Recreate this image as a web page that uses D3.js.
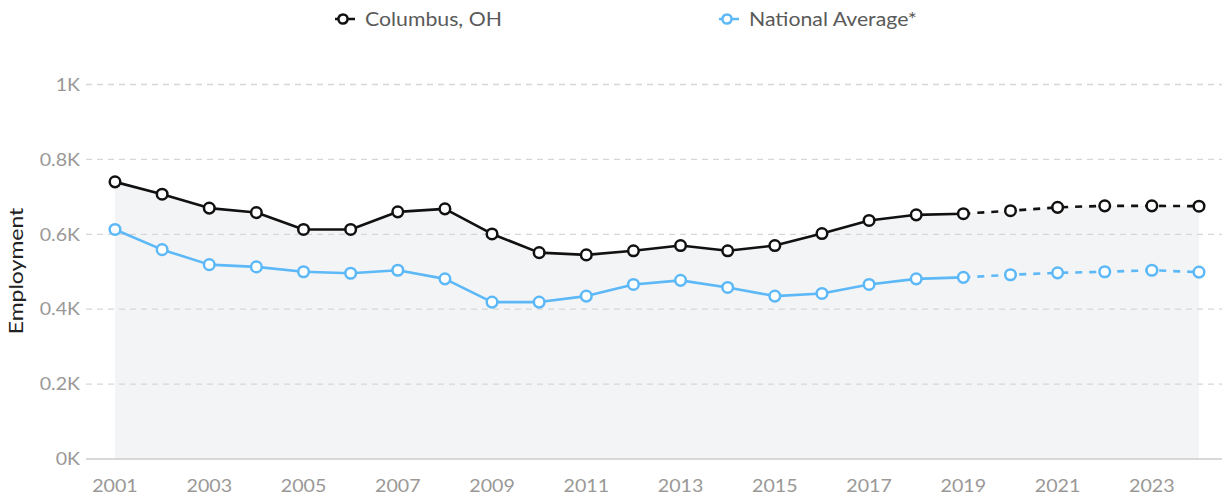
<!DOCTYPE html>
<html>
<head>
<meta charset="utf-8">
<script src="https://cdn.jsdelivr.net/npm/d3@7"></script>
<style>
  body { margin: 0; background: #fff; font-family: Lato, "Open Sans", sans-serif; }
</style>
</head>
<body>
<div id="chart"></div>
<script>
const years = d3.range(2001, 2025);
const columbus = [0.740, 0.707, 0.670, 0.658, 0.613, 0.613, 0.660, 0.668, 0.601, 0.551, 0.545,
    0.556, 0.570, 0.556, 0.570, 0.602, 0.637, 0.652, 0.655, 0.663, 0.672, 0.676, 0.676, 0.675];
const national = [0.613, 0.559, 0.519, 0.513, 0.500, 0.496, 0.504, 0.481, 0.419, 0.419, 0.435,
    0.466, 0.477, 0.458, 0.435, 0.442, 0.466, 0.481, 0.485, 0.492, 0.497, 0.500, 0.504, 0.499];
const lastActual = 2019;
const yTicks = [0, 0.2, 0.4, 0.6, 0.8, 1];
const xTicks = d3.range(2001, 2025, 2);
const seriesNames = ["Columbus, OH", "National Average*"];
const seriesColors = ["#111111", "#5cb8f7"];

const width = 1222, height = 500;
const svg = d3.select("#chart").append("svg")
    .attr("width", width)
    .attr("height", height);

const x = d3.scaleLinear().domain([2001, 2024]).range([115, 1199]);
const y = d3.scaleLinear().domain([0, 1]).range([459, 84.5]);

// shaded area below Columbus
const area = d3.area()
    .x((d, i) => x(years[i]))
    .y0(y(0))
    .y1(d => y(d));
svg.append("path")
    .datum(columbus)
    .attr("d", area)
    .attr("fill", "#f3f4f6");

// gridlines
svg.append("g")
    .selectAll("line")
    .data(yTicks.filter(d => d > 0))
    .enter()
    .append("line")
    .attr("x1", 86).attr("x2", width)
    .attr("y1", d => y(d)).attr("y2", d => y(d))
    .attr("stroke", "#d6d6d6")
    .attr("stroke-width", 1.3)
    .attr("stroke-dasharray", "6,5");

// baseline
svg.append("line")
    .attr("x1", 86).attr("x2", width)
    .attr("y1", y(0)).attr("y2", y(0))
    .attr("stroke", "#cccccc")
    .attr("stroke-width", 1.3);

// y axis labels
const yAxis = d3.axisLeft(y)
    .tickValues(yTicks)
    .tickSize(0)
    .tickPadding(0)
    .tickFormat(d => d === 0 ? "0K" : d === 1 ? "1K" : d3.format(".1f")(d) + "K");
const gy = svg.append("g").attr("transform", "translate(80,0)").call(yAxis);
gy.select(".domain").remove();
gy.selectAll("text")
    .style("font-family", "Lato, sans-serif")
    .style("font-size", "18px")
    .attr("transform", "scale(1.09,1)")
    .attr("fill", "#9a9896");

// x axis labels
const xAxis = d3.axisBottom(x)
    .tickValues(xTicks)
    .tickSize(0)
    .tickPadding(0)
    .tickFormat(d3.format("d"));
const gx = svg.append("g").attr("transform", "translate(0,479)").call(xAxis);
gx.select(".domain").remove();
gx.selectAll("text")
    .style("font-family", "Lato, sans-serif")
    .style("font-size", "18px")
    .attr("transform", "scale(1.09,1)")
    .attr("fill", "#9a9896");
// keep x labels centred on their ticks after the horizontal stretch
gx.selectAll(".tick").each(function(d) {
    d3.select(this).attr("transform", `translate(${x(d)},0)`);
});

// y axis title
svg.append("text")
    .attr("transform", "translate(23,271) rotate(-90) scale(1.15,1)")
    .attr("text-anchor", "middle")
    .style("font-family", "Lato, sans-serif")
    .style("font-size", "20px")
    .attr("fill", "#222")
    .text("Employment");

// lines
const splitIdx = years.indexOf(lastActual);
const line = d3.line()
    .x(d => x(d.year))
    .y(d => y(d.value));

[columbus, national].forEach((vals, s) => {
    const pts = vals.map((v, i) => ({ year: years[i], value: v }));
    svg.append("path")
        .datum(pts.slice(0, splitIdx + 1))
        .attr("d", line)
        .attr("fill", "none")
        .attr("stroke", seriesColors[s])
        .attr("stroke-width", 2.6)
        .attr("stroke-linejoin", "round");
    svg.append("path")
        .datum(pts.slice(splitIdx))
        .attr("d", line)
        .attr("fill", "none")
        .attr("stroke", seriesColors[s])
        .attr("stroke-width", 2.6)
        .attr("stroke-dasharray", "7,7");
    svg.append("g")
        .selectAll("circle")
        .data(pts)
        .enter()
        .append("circle")
        .attr("cx", d => x(d.year))
        .attr("cy", d => y(d.value))
        .attr("r", 5.3)
        .attr("fill", "#fff")
        .attr("stroke", seriesColors[s])
        .attr("stroke-width", 2.5);
});

// legend
const legendX = [335, 719];
seriesNames.forEach((name, s) => {
    const g = svg.append("g").attr("transform", `translate(${legendX[s]},19)`);
    g.append("line")
        .attr("x1", 0).attr("x2", 20)
        .attr("stroke", seriesColors[s])
        .attr("stroke-width", 2.5);
    g.append("circle")
        .attr("cx", 8).attr("r", 4.6)
        .attr("fill", "#fff")
        .attr("stroke", seriesColors[s])
        .attr("stroke-width", 2.5);
    g.append("text")
        .attr("x", 30)
        .attr("dy", "0.35em")
        .attr("transform", "scale(1.12,1)")
        .attr("transform", `translate(30,0) scale(1.12,1) translate(-30,0)`)
        .style("font-family", "Lato, sans-serif")
        .style("font-size", "19px")
        .attr("fill", "#5a5a5a")
        .text(name);
});
</script>
</body>
</html>
